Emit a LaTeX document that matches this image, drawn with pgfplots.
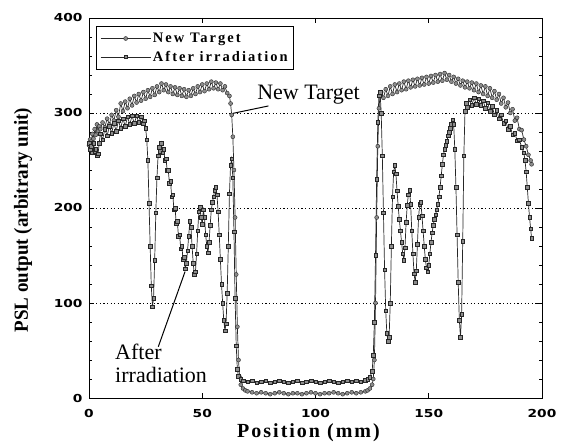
\documentclass[border=0pt]{standalone}
\usepackage{pgfplots}
\pgfplotsset{compat=1.18}
\usepackage{fontspec}
\setmainfont{Liberation Serif}
\newfontfamily\tickfont[FakeStretch=1.25]{DejaVu Sans}
\newfontfamily\labfont[LetterSpace=10]{Liberation Serif}
\newfontfamily\ylabfont[FakeStretch=0.95]{Liberation Serif}
\newfontfamily\legfont[LetterSpace=14]{Liberation Serif}
\begin{document}
\begin{tikzpicture}
\useasboundingbox (-89pt,-45pt) rectangle (472pt,398pt);
\begin{axis}[
  at={(0,0)}, anchor=south west,
  scale only axis, width=453pt, height=380pt,
  xmin=0, xmax=200, ymin=0, ymax=400,
  xtick={0,50,100,150,200}, ytick={0,100,200,300,400},
  minor y tick num=4,
  tick align=inside, major tick length=5pt, minor tick length=3pt,
  axis line style={line width=0.8pt},
  every tick/.style={black, line width=0.6pt},
  ymajorgrids, grid style={black, line width=0.6pt, dash pattern=on 1.2pt off 2.4pt},
  /pgf/number format/assume math mode=true,
  ticklabel style={font=\tickfont\bfseries\fontsize{11}{13}\selectfont},
  yticklabel style={xshift=-3pt},
  xticklabel style={yshift=-8pt},
  xlabel={Position (mm)}, ylabel={PSL output (arbitrary unit)},
  xlabel style={at={(axis description cs:0.4845,-0.092)}, anchor=center, font=\labfont\bfseries\fontsize{20}{24}\selectfont},
  ylabel style={at={(axis description cs:-0.1457,0.468)}, anchor=center, font=\ylabfont\bfseries\fontsize{20}{24}\selectfont},
  legend style={at={(axis description cs:0.0155,0.98)}, anchor=north west, draw=black, line width=0.8pt,
    font=\legfont\bfseries\fontsize{14.5}{16}\selectfont, inner xsep=4pt, inner ysep=5pt, row sep=3pt, cells={anchor=west}},
  legend image code/.code={\draw[line width=0.5pt,#1,mark=none] (0pt,0pt) -- (50pt,0pt);
     \draw[line width=0.5pt,#1,only marks] plot coordinates {(25pt,0pt)};},
]
\addplot[black!85, line width=0.7pt, mark=*, mark size=2pt, mark options={fill=black!45, draw=black!85, line width=0.4pt}] coordinates {
(0,266)(0.5,272)(1,270)(1.5,278)(2,273)(2.5,283)(3,277)(3.5,288)(4,281)(4.5,286)(5,283)(6,290)(7,285)(8,294)(9,288)(10,298)(11,292)(12,303)(13,296)(14,310)(15,302)(16,312)(17,305)(18,315)(19,308)(20,318)(21,311)(22,320)(23,313)(24,322)(25,315)(26,324)(27,317)(28,326)(29,319)(30,328)(31,322)(32,331)(33,324)(34,330)(35,322)(36,328)(37,320)(38,327)(39,319)(40,326)(41,318)(42,325)(43,317)(44,324)(45,318)(46,326)(47,320)(48,328)(49,322)(50,330)(51,323)(52,331)(53,325)(54,333)(55,326)(56,332)(57,325)(58,331)(59,324)(60,328)(61,321)(62,318)(62.5,310)(63,298)(63.5,275)(64,240)(64.5,190)(65,130)(65.5,75)(66,40)(66.5,22)(67,14)(68,10)(69,8)(70,7)(72,6)(74,5)(76,6)(78,5)(80,4)(82,5)(84,6)(86,5)(88,4)(90,5)(92,5)(94,4)(96,5)(98,6)(100,5)(102,4)(104,5)(106,5)(108,6)(110,5)(112,4)(114,5)(116,6)(118,5)(120,6)(122,7)(123,8)(124,10)(125,14)(125.5,20)(126,40)(126.5,100)(127,190)(127.5,265)(128,305)(128.5,318)(129,322)(130,316)(131,325)(132,318)(133,328)(134,320)(135,330)(136,322)(137,331)(138,324)(139,333)(140,325)(141,334)(142,327)(143,335)(144,328)(145,336)(146,329)(147,337)(148,330)(149,338)(150,331)(151,339)(152,332)(153,340)(154,333)(155,341)(156,334)(157,342)(158,335)(159,340)(160,333)(161,338)(162,331)(163,336)(164,329)(165,334)(166,327)(167,333)(168,326)(169,332)(170,324)(171,331)(172,322)(173,329)(174,320)(175,328)(176,318)(177,326)(178,316)(179,323)(180,314)(181,320)(182,310)(183,316)(184,306)(185,311)(186,300)(187,304)(188,292)(189,295)(190,283)(191,282)(192,272)(193,265)(194,256)(195,250)(195.4,246)
};
\addlegendentry{New Target}
\addplot[black!85, line width=0.7pt, mark=square*, mark size=1.8pt, mark options={fill=black!45, draw=black!85, line width=0.4pt}] coordinates {
(0,268)(0.5,262)(1,265)(1.5,258)(2,268)(2.5,260)(3,262)(3.5,255)(4,257)(4.5,268)(5,278)(6,272)(7,283)(8,276)(9,286)(10,279)(11,289)(12,281)(13,292)(14,284)(15,294)(16,286)(17,296)(18,288)(19,297)(20,289)(21,297)(22,290)(23,296)(24,289)(24.5,292)(25,284)(25.5,272)(26,250)(26.5,205)(27,160)(27.5,118)(28,96)(28.5,105)(29,145)(29.5,195)(30,232)(30.5,255)(31,264)(31.5,260)(32,268)(32.5,258)(33,262)(33.5,250)(34,252)(34.5,240)(35,240)(35.5,226)(36,228)(36.5,212)(37,214)(37.5,198)(38,200)(38.5,184)(39,186)(39.5,170)(40,172)(40.5,157)(41,160)(41.5,146)(42,148)(42.5,136)(43,142)(43.5,155)(44,170)(44.5,186)(45,180)(45.5,160)(46,142)(46.5,130)(47,133)(47.5,152)(48,176)(48.5,196)(49,201)(49.5,190)(50,183)(50.5,198)(51,190)(51.5,172)(52,160)(52.5,153)(53,164)(53.5,182)(54,198)(54.5,206)(55,212)(55.5,219)(56,222)(56.5,214)(57,196)(57.5,172)(58,146)(58.5,120)(59,100)(59.5,82)(60,71)(60.5,78)(61,110)(61.5,160)(62,215)(62.5,245)(63,252)(63.5,232)(64,175)(64.5,105)(65,55)(65.5,30)(66,23)(67,20)(68,18)(70,17)(72,18)(74,16)(76,17)(78,18)(80,16)(82,17)(84,18)(86,17)(88,16)(90,17)(92,18)(94,16)(96,17)(98,18)(100,17)(102,16)(104,17)(106,18)(108,17)(110,16)(112,17)(114,18)(116,17)(118,18)(120,17)(122,19)(123,20)(124,22)(125,28)(125.5,45)(126,80)(126.5,150)(127,230)(127.5,290)(128,318)(128.5,322)(129,300)(129.5,255)(130,195)(130.5,135)(131,92)(131.5,68)(132,60)(132.5,64)(133,100)(133.5,160)(134,212)(134.5,238)(135,245)(135.5,236)(136,218)(136.5,202)(137,188)(137.5,176)(138,164)(138.5,152)(139,145)(139.5,158)(140,185)(140.5,203)(141,214)(141.5,219)(142,204)(142.5,176)(143,152)(143.5,131)(144,122)(144.5,134)(145,162)(145.5,190)(146,204)(146.5,206)(147,192)(147.5,176)(148,160)(148.5,146)(149,137)(149.5,133)(150,140)(150.5,152)(151,164)(151.5,174)(152,182)(152.5,188)(153,193)(153.5,198)(154,204)(154.5,212)(155,222)(155.5,234)(156,246)(156.5,256)(157,262)(157.5,266)(158,270)(158.5,276)(159,280)(159.5,284)(160,288)(160.5,293)(161,288)(161.5,262)(162,222)(162.5,172)(163,122)(163.5,82)(164,64)(164.5,88)(165,165)(165.5,255)(166,302)(166.5,310)(167,306)(168,314)(169,308)(170,316)(171,309)(172,315)(173,308)(174,313)(175,305)(176,311)(177,302)(178,307)(179,298)(180,303)(181,294)(182,298)(183,289)(184,292)(185,283)(186,286)(187,277)(188,279)(189,271)(190,272)(191,264)(192,258)(192.5,250)(193,238)(193.5,222)(194,205)(194.5,190)(195,178)(195.4,168)
};
\addlegendentry{After irradiation}
\node[anchor=base west, font=\fontsize{22}{24}\selectfont, inner sep=0pt] at (axis cs:74.2,314.7) {New Target};
\draw[line width=1pt] (axis cs:63.7,299.7) -- (axis cs:79.2,307.4);
\node[anchor=base west, font=\fontsize{22}{24}\selectfont, inner sep=0pt] at (axis cs:11.5,40) {After};
\node[anchor=base west, font=\fontsize{22}{24}\selectfont, inner sep=0pt] at (axis cs:11.5,15.8) {irradiation};
\draw[line width=1pt] (axis cs:42.4,133) -- (axis cs:30.6,54);
\end{axis}
\end{tikzpicture}
\end{document}
